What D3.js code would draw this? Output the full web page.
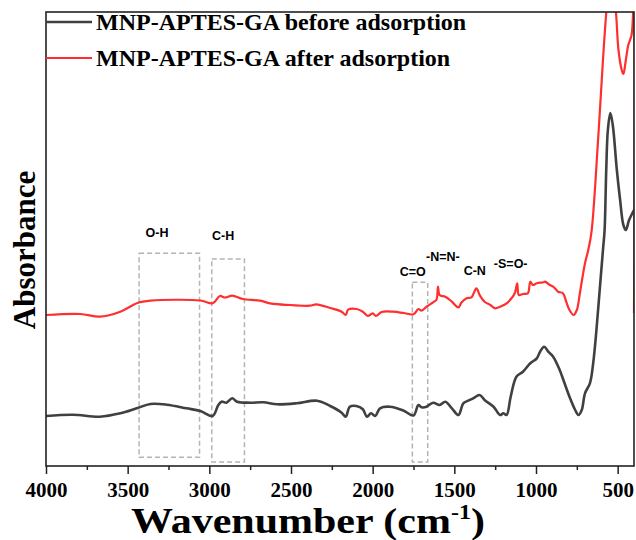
<!DOCTYPE html>
<html>
<head>
<meta charset="utf-8">
<script src="https://cdn.jsdelivr.net/npm/d3@7/dist/d3.min.js"></script>
<style>
  body { margin: 0; background: #fff; }
  svg { display: block; }
</style>
</head>
<body>
<svg width="636" height="540"></svg>
<script>
// FTIR spectra, wavenumber (cm-1) and absorbance (arbitrary units, offset)
var wnBefore = [4000, 3835, 3670, 3545, 3445, 3360, 3260, 3140, 3055, 2980, 2945, 2925, 2895, 2860, 2830, 2750, 2670, 2585, 2465, 2340, 2260, 2190, 2165, 2140, 2100, 2060, 2035, 2010, 1985, 1955, 1895, 1810, 1750, 1720, 1700, 1670, 1630, 1590, 1555, 1515, 1475, 1445, 1415, 1385, 1345, 1315, 1260, 1220, 1200, 1180, 1155, 1120, 1080, 1035, 995, 975, 950, 925, 895, 855, 825, 795, 760, 740, 720, 700, 670, 650, 630, 610, 590, 580, 570, 560, 545, 530, 505, 485, 465, 450, 430, 400];
var absBefore = [4.8, 4.93, 4.73, 5.07, 5.57, 6.0, 5.93, 5.57, 5.3, 4.8, 5.9, 6.23, 6.13, 6.57, 6.23, 6.13, 6.17, 5.97, 6.07, 6.33, 5.8, 5.13, 4.73, 5.73, 5.8, 5.47, 4.73, 5.07, 4.8, 5.57, 5.73, 5.33, 4.85, 5.9, 5.67, 5.73, 6.13, 5.9, 6.23, 5.57, 4.9, 6.07, 6.33, 6.57, 6.9, 6.4, 5.73, 4.9, 5.07, 4.9, 6.73, 8.73, 9.23, 10.07, 10.57, 11.23, 11.73, 11.23, 10.73, 9.4, 8.07, 6.73, 5.4, 4.9, 5.4, 7.07, 8.07, 10.07, 13.4, 17.4, 21.4, 23.4, 29.4, 33.4, 35.1, 33.9, 29.4, 26.4, 23.9, 23.4, 24.4, 25.4];

var wnAfter = [4000, 3790, 3670, 3545, 3440, 3360, 3055, 2980, 2935, 2905, 2860, 2795, 2690, 2620, 2505, 2385, 2345, 2260, 2190, 2165, 2150, 2100, 2060, 2030, 2000, 1980, 1945, 1875, 1810, 1750, 1720, 1700, 1670, 1630, 1610, 1600, 1590, 1555, 1515, 1475, 1455, 1425, 1395, 1365, 1345, 1315, 1280, 1250, 1220, 1180, 1150, 1130, 1115, 1105, 1080, 1050, 1035, 1020, 995, 955, 945, 915, 895, 875, 865, 835, 815, 795, 770, 750, 730, 700, 680, 660, 620, 590, 570, 540, 510, 495, 475, 465, 450, 435, 415, 400, 400];
var absAfter = [14.9, 15.0, 14.73, 15.23, 16.1, 16.33, 16.35, 16.07, 16.8, 16.65, 16.83, 16.5, 16.33, 16.03, 15.9, 15.83, 15.97, 15.6, 15.23, 14.9, 15.43, 15.5, 15.23, 14.8, 15.07, 14.8, 15.2, 15.23, 15.1, 14.97, 15.5, 15.33, 15.73, 16.17, 16.4, 17.73, 16.9, 16.73, 16.23, 15.67, 16.17, 16.57, 16.67, 17.57, 16.9, 16.23, 15.9, 15.57, 15.73, 16.07, 16.57, 17.07, 18.07, 16.9, 17.0, 17.07, 18.23, 17.9, 18.07, 18.17, 18.23, 17.9, 17.73, 17.4, 17.23, 17.07, 16.23, 15.4, 14.9, 15.4, 17.23, 20.07, 21.4, 23.23, 32.4, 40.4, 45.1, 50.4, 45.1, 41.4, 39.4, 39.0, 40.4, 41.9, 42.9, 47.0, 15.1];

var seriesNames = ["MNP-APTES-GA before adsorption", "MNP-APTES-GA after adsorption"];
var seriesColors = ["#404040", "#ff2f2f"];

var xTicks = [4000, 3500, 3000, 2500, 2000, 1500, 1000, 500];
var xMinorTicks = [3750, 3250, 2750, 2250, 1750, 1250, 750];

// band annotations: label, label position, dashed box [wn1, wn2, a1, a2]
var bandLabels = ["O-H", "C-H", "C=O", "-N=N-", "C-N", "-S=O-"];
var bandLabelWn = [3320, 2915, 1755, 1570, 1375, 1155];
var bandLabelAbs = [23.1, 22.8, 19.2, 20.7, 19.3, 20.0];
var boxes = [[3430, 3060, 21.07, 0.67], [2985, 2785, 20.5, 0.2], [1757, 1663, 18.17, 0.2]];

var svg = d3.select("svg");
var plotLeft = 46, plotRight = 634, plotTop = 12, plotBottom = 466;

var x = d3.scaleLinear().domain([4000, 400]).range([plotLeft, plotRight]);
var y = d3.scaleLinear().domain([-0.2, 45.2]).range([plotBottom, plotTop]);

svg.append("clipPath").attr("id", "plotclip")
  .append("rect").attr("x", plotLeft).attr("y", plotTop)
  .attr("width", plotRight - plotLeft).attr("height", plotBottom - plotTop);

// dashed band boxes
svg.append("g").selectAll("rect").data(boxes).enter().append("rect")
  .attr("x", function(d) { return x(d[0]); })
  .attr("y", function(d) { return y(d[2]); })
  .attr("width", function(d) { return x(d[1]) - x(d[0]); })
  .attr("height", function(d) { return y(d[3]) - y(d[2]); })
  .attr("fill", "none")
  .attr("stroke", "#b4b4b4")
  .attr("stroke-width", 1.5)
  .attr("stroke-dasharray", "5,3");

svg.append("g").selectAll("text").data(bandLabels).enter().append("text")
  .attr("x", function(d, i) { return x(bandLabelWn[i]); })
  .attr("y", function(d, i) { return y(bandLabelAbs[i]); })
  .attr("text-anchor", "middle")
  .attr("dy", "0.35em")
  .style("font-family", "'Liberation Sans', Arial, sans-serif")
  .style("font-weight", "bold")
  .style("font-size", "12.5px")
  .text(function(d) { return d; });

var line = d3.line()
  .x(function(d) { return x(d[0]); })
  .y(function(d) { return y(d[1]); })
  .curve(d3.curveCatmullRom.alpha(0.5));

var spectra = [d3.zip(wnBefore, absBefore), d3.zip(wnAfter, absAfter)];

svg.append("g").attr("clip-path", "url(#plotclip)")
  .selectAll("path").data(spectra).enter().append("path")
  .attr("d", line)
  .attr("fill", "none")
  .attr("stroke", function(d, i) { return seriesColors[i]; })
  .attr("stroke-width", function(d, i) { return i == 0 ? 2.6 : 2.2; })
  .attr("stroke-linejoin", "round");

// x axis
var xAxis = svg.append("g").attr("transform", "translate(0," + plotBottom + ")")
  .call(d3.axisBottom(x).tickValues(xTicks).tickSize(8).tickPadding(8).tickFormat(d3.format("d")));
svg.append("g").attr("transform", "translate(0," + plotBottom + ")")
  .call(d3.axisBottom(x).tickValues(xMinorTicks).tickSize(4).tickFormat(""))
  .select(".domain").remove();
xAxis.select(".domain").remove();
svg.selectAll(".tick line").attr("stroke", "#222").attr("stroke-width", 1.5);
xAxis.selectAll("text")
  .style("font-family", "'Liberation Serif', 'Times New Roman', serif")
  .style("font-weight", "bold")
  .style("font-size", "21px")
  .attr("fill", "#000");

// frame
svg.append("rect")
  .attr("x", plotLeft).attr("y", plotTop)
  .attr("width", plotRight - plotLeft).attr("height", plotBottom - plotTop)
  .attr("fill", "none").attr("stroke", "#222").attr("stroke-width", 1.6);

// axis titles
var xt = svg.append("text")
  .attr("transform", "translate(308,533) scale(1.2,1)")
  .attr("text-anchor", "middle")
  .style("font-family", "'Liberation Serif', 'Times New Roman', serif")
  .style("font-weight", "bold")
  .style("font-size", "35px");
xt.append("tspan").text("Wavenumber (cm");
xt.append("tspan").attr("dy", -14).style("font-size", "20px").text("-1");
xt.append("tspan").attr("dy", 14).text(")");

svg.append("text")
  .attr("transform", "translate(35,250) rotate(-90)")
  .attr("text-anchor", "middle")
  .style("font-family", "'Liberation Serif', 'Times New Roman', serif")
  .style("font-weight", "bold")
  .style("font-size", "31px")
  .text("Absorbance");

// legend
var legend = svg.append("g").selectAll("g").data(seriesNames).enter().append("g")
  .attr("transform", function(d, i) { return "translate(" + plotLeft + "," + (22 + i * 36) + ")"; });
legend.append("line")
  .attr("x1", 0).attr("x2", 46)
  .attr("stroke", function(d, i) { return seriesColors[i]; })
  .attr("stroke-width", function(d, i) { return i == 0 ? 2.6 : 2.2; });
legend.append("text")
  .attr("x", 50).attr("dy", "0.33em")
  .style("font-family", "'Liberation Serif', 'Times New Roman', serif")
  .style("font-weight", "bold")
  .style("font-size", "24px")
  .text(function(d) { return d; });
</script>
</body>
</html>
